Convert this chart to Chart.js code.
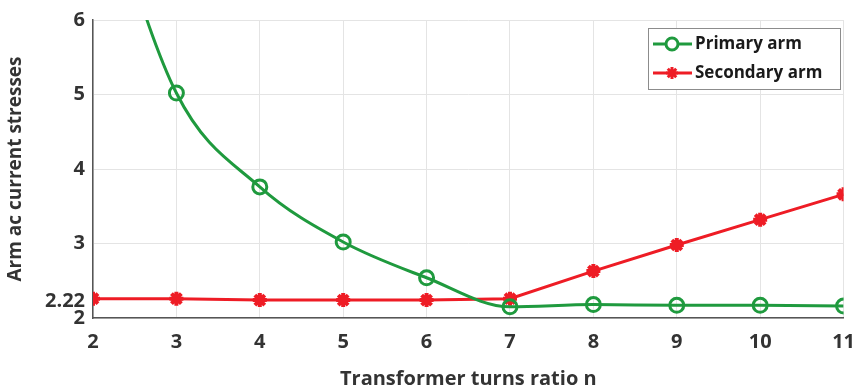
<!DOCTYPE html>
<html>
<head>
<meta charset="utf-8">
<script src="https://cdn.jsdelivr.net/npm/chart.js@4/dist/chart.umd.min.js"></script>
<style>
  html, body { margin: 0; padding: 0; background: #fff; }
  #wrap { width: 867px; height: 390px; position: relative; }
</style>
</head>
<body>
<div id="wrap"><canvas id="myChart" width="867" height="390"></canvas></div>
<script>
const turns_ratio = [2, 3, 4, 5, 6, 7, 8, 9, 10, 11];
const primary_arm = [8.2, 5.02, 3.76, 3.02, 2.54, 2.15, 2.18, 2.17, 2.17, 2.16];
const secondary_arm = [2.26, 2.26, 2.24, 2.24, 2.24, 2.26, 2.63, 2.98, 3.32, 3.66];
const y_ticks = [2, 2.22, 3, 4, 5, 6];
const series_names = ['Primary arm', 'Secondary arm'];

const green = '#1f9a3e';
const red = '#ee1c25';
const font_family = "'Open Sans', 'Lato', sans-serif";

// legend drawn inside the plot, top right
const boxLegend = {
    id: 'boxLegend',
    afterDraw(chart) {
        const ctx = chart.ctx;
        const x0 = 648, y0 = 28, w = 192, h = 61;
        ctx.save();
        ctx.fillStyle = '#fff';
        ctx.fillRect(x0, y0, w, h);
        ctx.strokeStyle = '#8c8c8c';
        ctx.lineWidth = 1;
        ctx.strokeRect(x0 + 0.5, y0 + 0.5, w, h);
        chart.data.datasets.forEach((ds, i) => {
            const cy = y0 + 16 + i * 29;
            ctx.strokeStyle = ds.borderColor;
            ctx.lineWidth = 3;
            ctx.beginPath();
            ctx.moveTo(x0 + 5, cy);
            ctx.lineTo(x0 + 44, cy);
            ctx.stroke();
            Chart.helpers.drawPoint(ctx, {
                pointStyle: ds.pointStyle,
                radius: ds.pointRadius - 1,
                borderWidth: ds.pointBorderWidth
            }, x0 + 24, cy);
            ctx.fillStyle = '#1a1a1a';
            ctx.font = `bold 17px ${font_family}`;
            ctx.textBaseline = 'middle';
            ctx.textAlign = 'left';
            ctx.fillText(ds.label, x0 + 47, cy);
        });
        ctx.restore();
    }
};

const ctx = document.getElementById('myChart').getContext('2d');
const myChart = new Chart(ctx, {
    type: 'line',
    data: {
        labels: turns_ratio,
        datasets: [{
            label: series_names[0],
            data: turns_ratio.map((n, i) => ({ x: n, y: primary_arm[i] })),
            borderColor: green,
            backgroundColor: '#fff',
            borderWidth: 3,
            pointStyle: 'circle',
            pointRadius: 7,
            pointBorderWidth: 3,
            pointBackgroundColor: 'rgba(255,255,255,0)',
            pointBorderColor: green,
            cubicInterpolationMode: 'monotone'
        }, {
            label: series_names[1],
            data: turns_ratio.map((n, i) => ({ x: n, y: secondary_arm[i] })),
            borderColor: red,
            backgroundColor: red,
            borderWidth: 3,
            pointStyle: 'star',
            pointRadius: 7,
            pointBorderWidth: 4,
            pointBorderColor: red,
            tension: 0
        }]
    },
    options: {
        responsive: false,
        animation: false,
        layout: { padding: { left: 0, right: 12, top: 16, bottom: 0 } },
        plugins: {
            legend: { display: false },
            tooltip: { enabled: false }
        },
        scales: {
            x: {
                type: 'linear',
                min: 2,
                max: 11,
                ticks: {
                    stepSize: 1,
                    color: '#333',
                    font: { family: font_family, size: 20, weight: 'bold' },
                    padding: 12
                },
                grid: { color: '#e4e4e4', drawTicks: false },
                border: { color: '#555', width: 1.5 },
                title: {
                    display: true,
                    text: 'Transformer turns ratio n',
                    color: '#333',
                    font: { family: font_family, size: 20, weight: 'bold' },
                    padding: { top: 4, bottom: -1 }
                },
                afterFit(scale) { scale.height = 72; }
            },
            y: {
                min: 2,
                max: 6,
                afterBuildTicks(scale) {
                    scale.ticks = y_ticks.map(v => ({ value: v }));
                },
                ticks: {
                    color: '#333',
                    font: { family: font_family, size: 20, weight: 'bold' },
                    padding: 8,
                    callback: v => String(v)
                },
                grid: {
                    color: c => (c.tick && c.tick.value === 2.22) ? 'rgba(0,0,0,0)' : '#e4e4e4',
                    drawTicks: false
                },
                border: { color: '#555', width: 1.5 },
                title: {
                    display: true,
                    text: 'Arm ac current stresses',
                    color: '#333',
                    font: { family: font_family, size: 19, weight: 'bold' },
                    padding: { bottom: 4 }
                },
                afterFit(scale) { scale.width = 93; }
            }
        }
    },
    plugins: [boxLegend]
});
</script>
</body>
</html>
